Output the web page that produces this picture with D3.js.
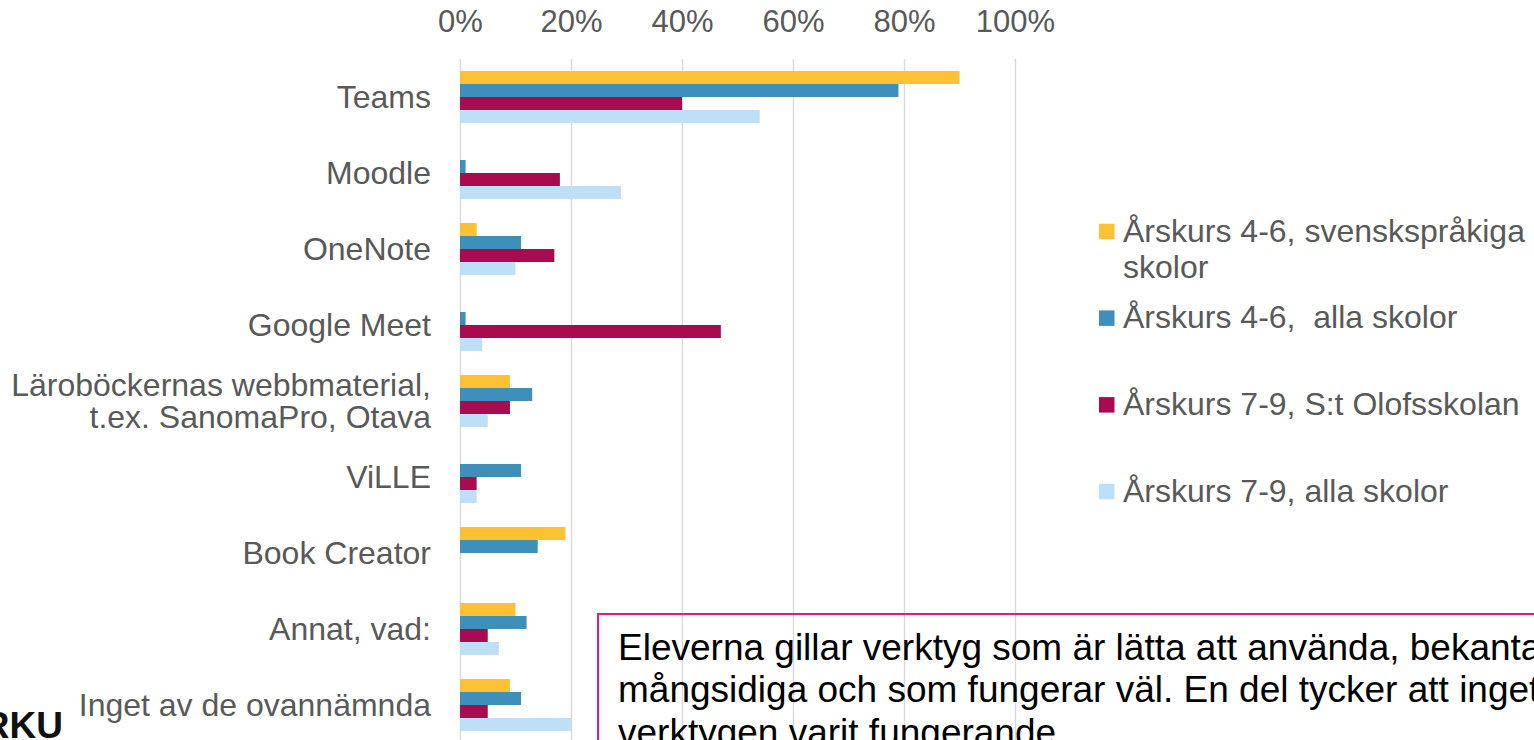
<!DOCTYPE html>
<html lang="sv">

<head>
    <meta charset="UTF-8">
    <title>Digitala verktyg</title>
    <script src="https://d3js.org/d3.v7.min.js"></script>
    <style>
        body {
            margin: 0;
            background: #fff;
        }
        svg * {
            font-family: Arial, 'Liberation Sans', sans-serif;
        }
        svg {
            display: block;
        }
    </style>
</head>

<body>

    <svg></svg>

    <script>
        const categories = ['Teams', 'Moodle', 'OneNote', 'Google Meet',
            'Läroböckernas webbmaterial,\nt.ex. SanomaPro, Otava', 'ViLLE', 'Book Creator',
            'Annat, vad:', 'Inget av de ovannämnda'];
        const seriesNames = ['Årskurs 4-6, svenskspråkiga\nskolor', 'Årskurs 4-6,  alla skolor',
            'Årskurs 7-9, S:t Olofsskolan', 'Årskurs 7-9, alla skolor'];
        const ak46Svenska = [90, 0, 3, 0, 9, 0, 19, 10, 9];
        const ak46Alla = [79, 1, 11, 1, 13, 11, 14, 12, 11];
        const ak79Olof = [40, 18, 17, 47, 9, 3, 0, 5, 5];
        const ak79Alla = [54, 29, 10, 4, 5, 3, 0, 7, 20];
        const tickValues = [0, 20, 40, 60, 80, 100];
        const noteLines = ['Eleverna gillar verktyg som är lätta att använda, bekanta,',
            'mångsidiga och som fungerar väl. En del tycker att inget av',
            'verktygen varit fungerande.'];

        const seriesValues = [ak46Svenska, ak46Alla, ak79Olof, ak79Alla];
        const colors = ['#FFC134', '#3F8FBB', '#A90B50', '#BDDFF7'];

        const width = 1534;
        const height = 740;
        const svg = d3.select('svg')
            .attr('width', width)
            .attr('height', height);

        const x = d3.scaleLinear().domain([0, 100]).range([460, 1015]);

        const y = d3.scaleBand()
            .domain(categories)
            .range([59, 743])
            .paddingInner(0.316)
            .paddingOuter(0.158);

        const ySub = d3.scaleBand()
            .domain(d3.range(seriesNames.length))
            .range([0, y.bandwidth()]);

        // gridlines + top labels
        const xAxis = svg.append('g')
            .attr('transform', 'translate(0,59)')
            .call(d3.axisTop(x).tickValues(tickValues).tickSize(-700).tickFormat(d => d + '%'));
        xAxis.select('.domain').remove();
        xAxis.selectAll('.tick line')
            .attr('stroke', '#D9D9D9')
            .attr('stroke-width', 1.4);
        xAxis.selectAll('.tick text')
            .attr('y', -27)
            .attr('dy', 0)
            .attr('fill', '#595959')
            .attr('font-size', 31);

        // bars
        seriesValues.forEach((vals, s) => {
            svg.append('g')
                .selectAll('rect')
                .data(vals)
                .join('rect')
                .attr('x', x(0))
                .attr('y', (d, i) => y(categories[i]) + ySub(s))
                .attr('width', d => x(d) - x(0))
                .attr('height', ySub.bandwidth())
                .attr('fill', colors[s]);
        });

        // category labels
        svg.append('g')
            .selectAll('text')
            .data(categories)
            .join('text')
            .attr('text-anchor', 'end')
            .attr('fill', '#595959')
            .attr('font-size', 32)
            .each(function (d) {
                const lines = d.split('\n');
                const cy = y(d) + y.bandwidth() / 2;
                const t = d3.select(this);
                lines.forEach((line, k) => {
                    t.append('tspan')
                        .attr('x', 431)
                        .attr('y', cy + 11 + (k - (lines.length - 1) / 2) * 31.5)
                        .text(line);
                });
            });

        // legend
        const legend = svg.append('g')
            .selectAll('g')
            .data(seriesNames)
            .join('g')
            .attr('transform', (d, i) => `translate(1099,${241.7 + i * 86.7})`);

        legend.append('rect')
            .attr('y', -18)
            .attr('width', 15.5)
            .attr('height', 15.5)
            .attr('fill', (d, i) => colors[i]);

        legend.append('text')
            .attr('fill', '#595959')
            .attr('font-size', 32)
            .style('white-space', 'pre')
            .each(function (d) {
                const t = d3.select(this);
                d.split('\n').forEach((line, k) => {
                    t.append('tspan')
                        .attr('x', 24)
                        .attr('y', k * 36.6)
                        .text(line);
                });
            });

        // note box
        svg.append('rect')
            .attr('x', 598)
            .attr('y', 614)
            .attr('width', 1000)
            .attr('height', 200)
            .attr('fill', 'none')
            .attr('stroke', '#EA1A78')
            .attr('stroke-width', 2);

        svg.append('text')
            .attr('fill', '#000')
            .attr('font-size', 37)
            .selectAll('tspan')
            .data(noteLines)
            .join('tspan')
            .attr('x', 618)
            .attr('y', (d, i) => 660 + i * 42.4)
            .text(d => d);

        // logo fragment bottom left
        svg.append('text')
            .attr('x', 63)
            .attr('y', 738)
            .attr('text-anchor', 'end')
            .attr('font-size', 37)
            .attr('font-weight', 'bold')
            .attr('fill', '#111')
            .text('TURKU');
    </script>

</body>

</html>
